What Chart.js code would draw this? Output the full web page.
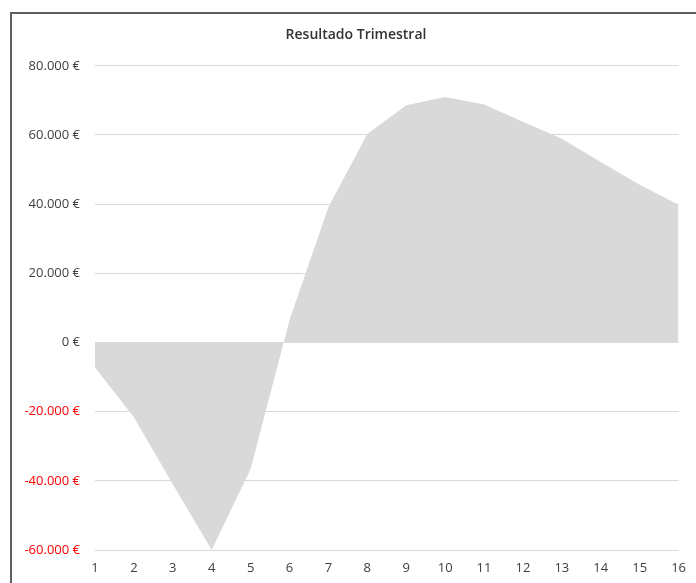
<!DOCTYPE html>
<html>
<head>
<meta charset="utf-8">
<script src="https://cdn.jsdelivr.net/npm/chart.js@4/dist/chart.umd.min.js"></script>
<style>
  html, body { margin: 0; padding: 0; background: #ffffff; }
  #frame { position: absolute; left: 10px; top: 12px; width: 720px; height: 600px;
           border-left: 2px solid #5f5f5f; border-top: 2px solid #5f5f5f; box-sizing: border-box; }
  #wrap { position: absolute; left: 0; top: 0; width: 696px; height: 583px; }
</style>
</head>
<body>
<div id="frame"></div>
<div id="wrap"><canvas id="c" width="696" height="583"></canvas></div>
<script>
const chartTitle = "Resultado Trimestral";
const categories = ["1","2","3","4","5","6","7","8","9","10","11","12","13","14","15","16"];
const resultado = [-7200, -21600, -41000, -60000, -36600, 6500, 39200, 60300, 68600, 71000, 68800, 63800, 58900, 52200, 45600, 39800];
const yTicks = [-60000, -40000, -20000, 0, 20000, 40000, 60000, 80000];

function fmtEuro(v) {
  const neg = v < 0;
  let s = String(Math.abs(Math.round(v)));
  s = s.replace(/\B(?=(\d{3})+(?!\d))/g, ".");
  return (neg ? "-" : "") + s + " €";
}

const FONT = "'Open Sans', 'DejaVu Sans', sans-serif";

new Chart(document.getElementById("c"), {
  type: "line",
  data: {
    labels: categories,
    datasets: [{
      label: chartTitle,
      data: resultado,
      yAxisID: "y",
      fill: "origin",
      backgroundColor: "#d9d9d9",
      borderWidth: 0,
      borderColor: "rgba(0,0,0,0)",
      pointRadius: 0,
      pointHoverRadius: 0,
      tension: 0
    }]
  },
  options: {
    responsive: false,
    animation: false,
    events: [],
    layout: { padding: { left: 16, right: 0, top: 0, bottom: 0 } },
    plugins: {
      legend: { display: false },
      tooltip: { enabled: false },
      title: {
        display: true,
        text: chartTitle,
        color: "#333333",
        font: { family: FONT, size: 14, weight: "600", lineHeight: 1.2 },
        padding: { top: 27, bottom: 22 }
      }
    },
    scales: {
      x: {
        type: "category",
        offset: false,
        grid: { display: false, drawTicks: false },
        border: { display: false },
        ticks: {
          color: "#404040",
          font: { family: FONT, size: 13 },
          padding: 10,
          maxRotation: 0,
          autoSkip: false
        },
        afterFit: (s) => { s.height = 33; }
      },
      y: {
        position: "left",
        min: -60000,
        max: 80000,
        afterBuildTicks: (s) => { s.ticks = yTicks.map(v => ({ value: v })); },
        grid: { color: "#d9d9d9", lineWidth: 1, drawTicks: false },
        border: { display: false },
        ticks: {
          padding: 15,
          font: { family: FONT, size: 13 },
          color: (ctx) => (ctx.tick && ctx.tick.value < 0) ? "#ff0000" : "#404040",
          callback: (v) => fmtEuro(v)
        },
        afterFit: (s) => { s.width = 79; }
      },
      yRight: {
        position: "right",
        grid: { display: false, drawTicks: false },
        border: { display: false },
        ticks: { display: false },
        afterFit: (s) => { s.width = 16; }
      }
    }
  }
});
</script>
</body>
</html>
